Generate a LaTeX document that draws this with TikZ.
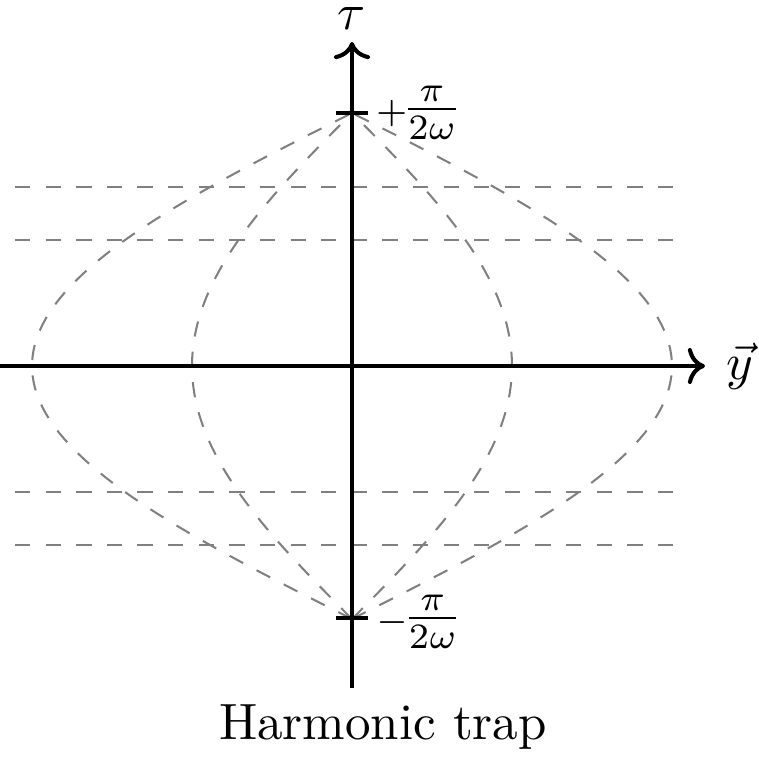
\documentclass[tikz,border=0pt]{standalone}
\usetikzlibrary{arrows.meta}
\begin{document}
\begin{tikzpicture}[x=0.196pt,y=-0.196pt,
  axis/.style={thick,->},
  tickmark/.style={thick},
  guide/.style={gray,dashed,line width=0.4pt},
  curve/.style={gray,dashed,line width=0.4pt},
  ticklabel/.style={anchor=base west,inner sep=0pt}]
\useasboundingbox (0,0) rectangle (759,757);
% guides
\foreach \yy/\nm in {187/ga,240/gb,492/gc,545/gd}{
  \coordinate (\nm l) at (15,\yy);
  \coordinate (\nm r) at (680,\yy);
  \draw[guide] (\nm l) -- (\nm r);
}
% trajectories
\foreach \A in {320,160}{
  \draw[curve] plot[domain=-1:1,samples=80] ({352+\A*cos(90*\x)},{366-253*\x});
  \draw[curve] plot[domain=-1:1,samples=80] ({352-\A*cos(90*\x)},{366-253*\x});
}
% axes
\coordinate (xs) at (0,366);
\coordinate (xe) at (705,366);
\coordinate (ys) at (352,688);
\coordinate (ye) at (352,42);
\draw[axis] (xs) -- (xe);
\draw[axis] (ys) -- (ye);
\node (tau) at (352,19) {$\tau$};
\node (yv) at (740,366) {$\vec{y}$};
% ticks
\coordinate (tpl) at (336,113);
\coordinate (tpr) at (368,113);
\coordinate (tml) at (336,618);
\coordinate (tmr) at (368,618);
\draw[tickmark] (tpl) -- (tpr);
\draw[tickmark] (tml) -- (tmr);
\coordinate (lpa) at (375,122);
\coordinate (lma) at (375,631);
\node[ticklabel] (lp) at (lpa) {{\scriptsize$+$}\kern-1pt$\frac{\pi}{2\omega}$};
\node[ticklabel] (lm) at (lma) {{\scriptsize$-$}\kern-1pt$\frac{\pi}{2\omega}$};
\node (cap) at (383,727) {Harmonic trap};
\end{tikzpicture}
\end{document}
